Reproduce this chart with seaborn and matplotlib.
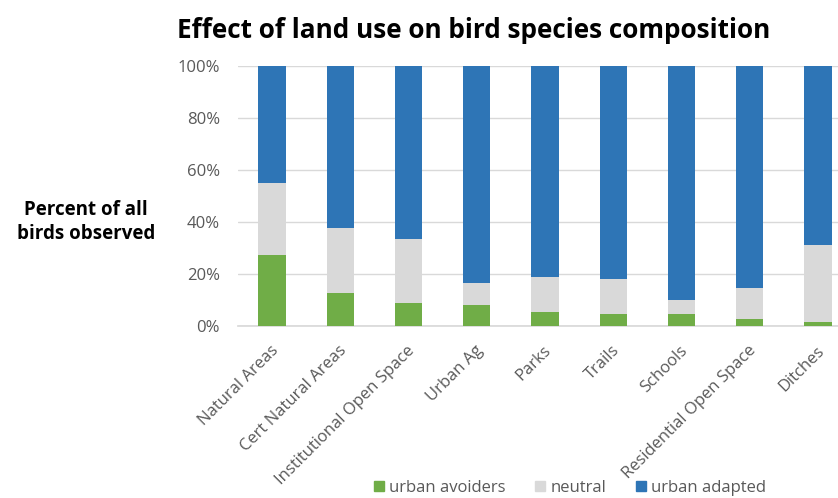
import matplotlib
matplotlib.use("Agg")
import matplotlib.pyplot as plt
import matplotlib.transforms as mtransforms
import seaborn as sns
import pandas as pd

# Land-use categories and share of birds (%) in each response group
land_use = ["Natural Areas", "Cert Natural Areas", "Institutional Open Space",
            "Urban Ag", "Parks", "Trails", "Schools",
            "Residential Open Space", "Ditches"]
urban_avoiders = [27.2, 12.8, 8.7, 8.2, 5.5, 4.5, 4.5, 2.8, 1.5]
neutral = [27.8, 24.9, 24.6, 8.5, 13.5, 13.4, 5.5, 11.8, 29.5]
urban_adapted = [45.0, 62.3, 66.7, 83.3, 81.0, 82.1, 90.0, 85.4, 69.0]
y_ticks = [0, 20, 40, 60, 80, 100]

series_names = ["urban avoiders", "neutral", "urban adapted"]
colors = ["#70AD47", "#D9D9D9", "#2E75B6"]

sns.set_theme(style="white")
plt.rcParams["font.family"] = ["Open Sans", "DejaVu Sans"]

df = pd.DataFrame({"land_use": land_use,
                   "urban avoiders": urban_avoiders,
                   "neutral": neutral,
                   "urban adapted": urban_adapted})
# cumulative tops for stacking
cum = df[series_names].cumsum(axis=1)

fig = plt.figure(figsize=(8.38, 4.98), dpi=100)
W, H = 838, 498
left, right, top, bottom = 238, 852, 66, 326
ax = fig.add_axes([left / W, 1 - bottom / H, (right - left) / W, (bottom - top) / H])

# draw tallest layer first so lower layers sit on top
for name, color in zip(reversed(series_names), reversed(colors)):
    sns.barplot(x=df["land_use"], y=cum[name], color=color, width=0.4,
                saturation=1, ax=ax, linewidth=0, zorder=3)

ax.set_ylim(0, 100)
ax.set_xlim(-0.5, 8.5)
ax.set_yticks(y_ticks)
ax.set_yticklabels([f"{v}%" for v in y_ticks], fontsize=12, color="#595959")
ax.yaxis.grid(True, color="#D9D9D9", linewidth=1, zorder=0)
ax.set_axisbelow(True)
for s in ["left", "right", "top"]:
    ax.spines[s].set_visible(False)
ax.spines["bottom"].set_color("#D9D9D9")
ax.tick_params(axis="y", length=0, pad=13)
ax.tick_params(axis="x", length=0, pad=12)
ax.set_xlabel("")
ax.set_ylabel("")
ax.set_xticks(range(len(land_use)))
ax.set_xticklabels(land_use, rotation=45, ha="right", rotation_mode="anchor",
                   fontsize=12, color="#595959")
shift = mtransforms.ScaledTranslation(-2 / 100, 0, fig.dpi_scale_trans)
for lbl in ax.get_xticklabels():
    lbl.set_transform(lbl.get_transform() + shift)

fig.text(474 / W, 1 - 30 / H, "Effect of land use on bird species composition",
         ha="center", va="center", fontsize=18.8, fontweight="bold", color="#000000")
fig.text(86 / W, 1 - 222 / H, "Percent of all\nbirds observed",
         ha="center", va="center", fontsize=13.5, fontweight="bold",
         color="#000000", linespacing=1.3)

handles = [plt.Rectangle((0, 0), 1, 1, color=c) for c in colors]
fig.legend(handles, series_names, loc="center", ncol=3,
           bbox_to_anchor=(570 / W, 1 - 488 / H), frameon=False,
           fontsize=12, labelcolor="#595959", handlelength=0.6,
           handleheight=0.6, handletextpad=0.3, columnspacing=1.8)

fig.savefig("out.png", dpi=100)
